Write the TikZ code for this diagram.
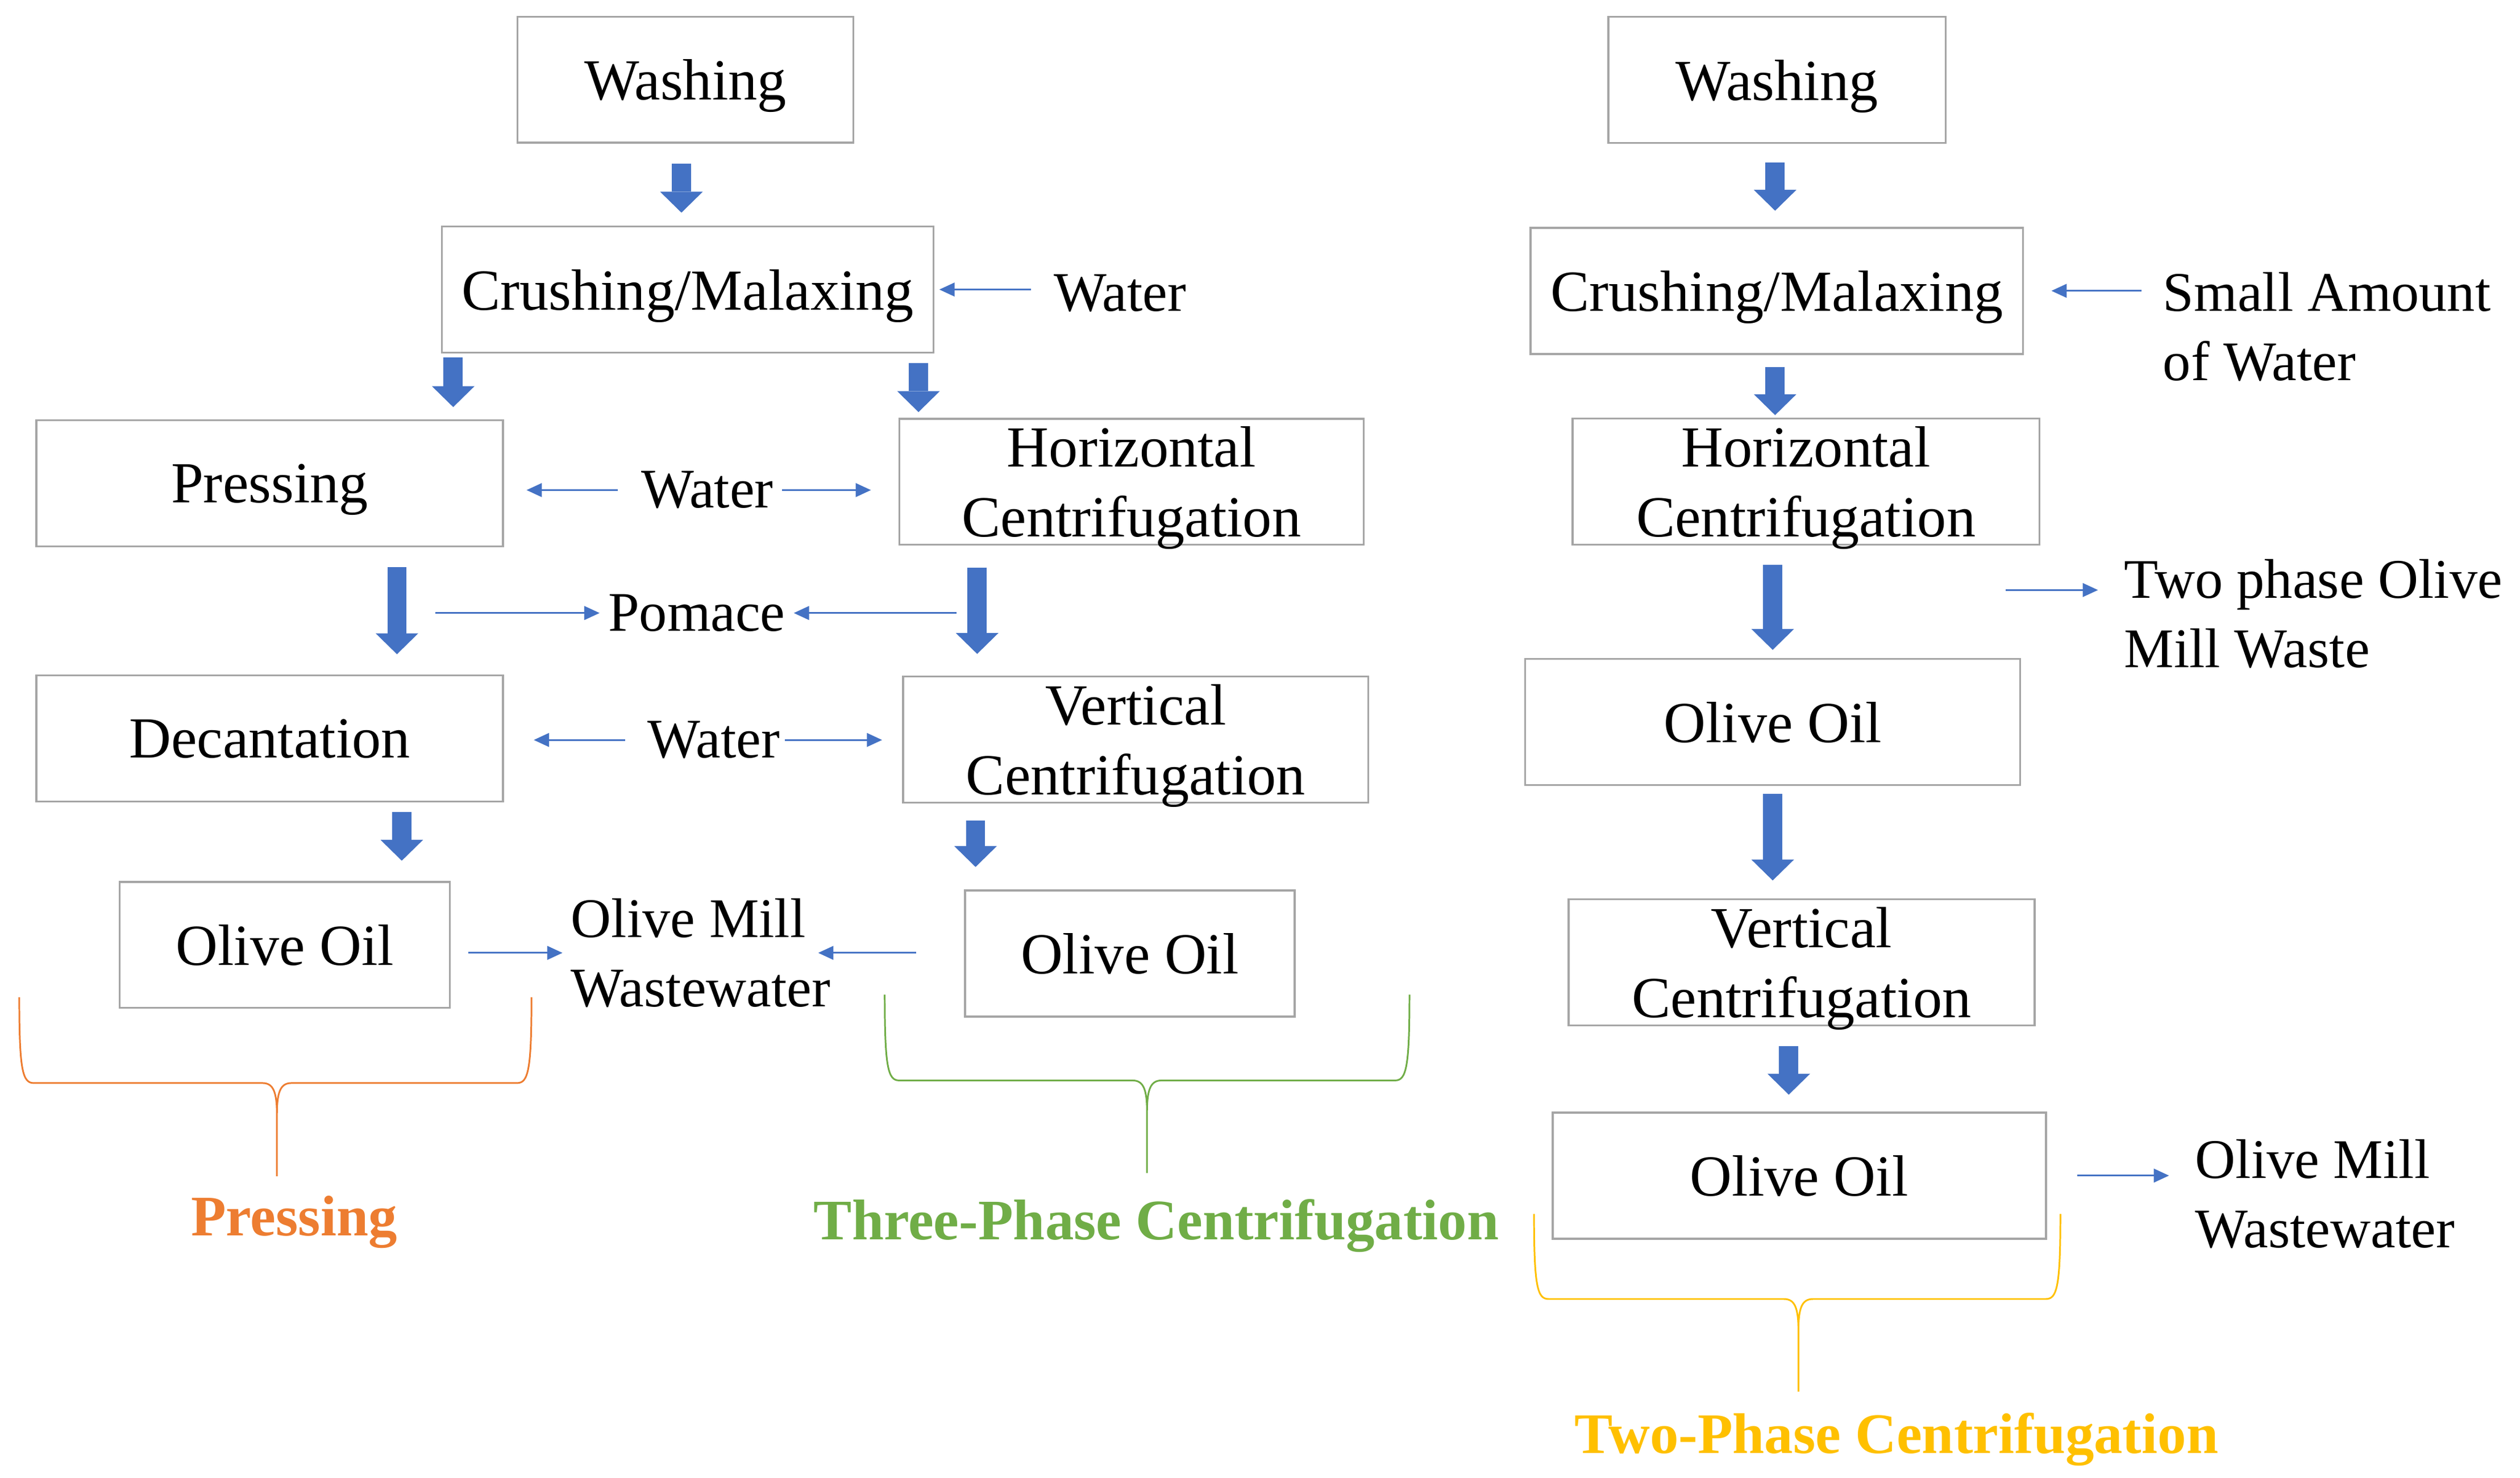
\documentclass[tikz,border=0pt]{standalone}
\usepackage{fontspec}
\setmainfont{Liberation Serif}
\usetikzlibrary{arrows.meta}
\definecolor{flowblue}{RGB}{68,114,196}
\definecolor{boxgray}{RGB}{165,165,165}
\definecolor{pressorange}{RGB}{237,125,49}
\definecolor{threegreen}{RGB}{112,173,71}
\definecolor{twogold}{RGB}{255,192,0}

\tikzset{
  procbox/.style={draw=boxgray, line width=0.7pt, minimum height=1.57cm, inner sep=0pt,
    align=center, text depth=0pt, font=\fontsize{20.6}{24.8}\selectfont},
  lbl/.style={inner xsep=0.1cm, inner ysep=0pt, align=left, font=\fontsize{19.8}{24.6}\selectfont},
  grouptitle/.style={font=\fontsize{20.3}{24}\selectfont\bfseries},
  bigarrow/.style={flowblue, line width=0.24cm, -{Triangle[length=0.26cm,width=0.53cm,line width=0pt]}},
  thinarrow/.style={flowblue, line width=0.6pt, -{Triangle[length=0.19cm,width=0.17cm]}},
}

% #1 colour, #2 left x, #3 right x, #4 middle x, #5 top y, #6 bar y, #7 tip y
\newcommand{\groupbrace}[7]{%
  \draw[#1, line width=0.6pt] (#2,#5) .. controls (#2,#6-8) and (#2+2,#6) .. (#2+9,#6)
    -- (#4-9,#6) .. controls (#4-2,#6) and (#4,#6+6) .. (#4,#6+20) -- (#4,#7)
    -- (#4,#6+20) .. controls (#4,#6+6) and (#4+2,#6) .. (#4+9,#6)
    -- (#3-9,#6) .. controls (#3-2,#6) and (#3,#6-8) .. (#3,#5);
}

\begin{document}
\begin{tikzpicture}[x=0.02cm, y=-0.02cm]
  \useasboundingbox (0,0) rectangle (1568,919.8);

  % pressing and three-phase line
  \node[procbox, minimum width=4.18cm] (washL) at (426.5,49.6) {Washing};
  \node[procbox, minimum width=6.12cm] (crushL) at (427.9,180.2) {Crushing/Malaxing};
  \node[procbox, minimum width=5.81cm] (pressL) at (167.8,300.7) {Pressing};
  \node[procbox, minimum width=5.78cm] (hcentL) at (704,299.8) {Horizontal\\Centrifugation};
  \node[procbox, minimum width=5.81cm] (decantL) at (167.8,459.5) {Decantation};
  \node[procbox, minimum width=5.79cm] (vcentL) at (706.7,460.3) {Vertical\\Centrifugation};
  \node[procbox, minimum width=4.11cm] (oilP) at (177.2,588) {Olive Oil};
  \node[procbox, minimum width=4.1cm] (oilT) at (703,593.4) {Olive Oil};

  \node[lbl] (waterA) at (697,182.5) {Water};
  \node[lbl] (waterB) at (440,305) {Water};
  \node[lbl] (pomace) at (433.5,381.5) {Pomace};
  \node[lbl] (waterC) at (444,460.5) {Water};
  \node[lbl, anchor=west] (omwL) at (350,593) {Olive Mill\\Wastewater};

  \draw[bigarrow, shorten <=0.25cm, shorten >=0.16cm] (washL.south -| 424,0) -- (crushL.north -| 424,0);
  \draw[bigarrow, shorten <=0.05cm, shorten >=0.15cm] (crushL.south -| 282,0) -- (pressL.north -| 282,0);
  \draw[bigarrow, shorten <=0.12cm, shorten >=0.07cm] (crushL.south -| 571.5,0) -- (hcentL.north -| 571.5,0);
  \draw[bigarrow, shorten <=0.25cm, shorten >=0.25cm] (pressL.south -| 247,0) -- (decantL.north -| 247,0);
  \draw[bigarrow, shorten <=0.27cm, shorten >=0.27cm] (hcentL.south -| 608,0) -- (vcentL.north -| 608,0);
  \draw[bigarrow, shorten <=0.12cm, shorten >=0.25cm] (decantL.south -| 250,0) -- (oilP.north -| 250,0);
  \draw[bigarrow, shorten <=0.21cm, shorten >=0.28cm] (vcentL.south -| 607,0) -- (oilT.north -| 607,0);

  \draw[thinarrow, shorten <=0.18cm, shorten >=0.06cm] (crushL.east -| waterA.west) -- (crushL.east);
  \draw[thinarrow, shorten <=0.18cm, shorten >=0.28cm] (waterB.west) -- (waterB.west -| pressL.east);
  \draw[thinarrow, shorten >=0.34cm] (waterB.east) -- (waterB.east -| hcentL.west);
  \coordinate (pomFromP) at (271,381.5);
  \coordinate (pomFromH) at (595,381.5);
  \draw[thinarrow] (pomFromP) -- (pomace.west);
  \draw[thinarrow] (pomFromH) -- (pomace.east);
  \draw[thinarrow, shorten <=0.17cm, shorten >=0.37cm] (waterC.west) -- (waterC.west -| decantL.east);
  \draw[thinarrow, shorten <=-0.04cm, shorten >=0.25cm] (waterC.east) -- (waterC.east -| vcentL.west);
  \draw[thinarrow, shorten <=0.22cm] (omwL.west -| oilP.east) -- (omwL.west);
  \draw[thinarrow, shorten <=0.6cm, shorten >=-0.26cm] (omwL.east -| oilT.west) -- (omwL.east);

  % two-phase line
  \node[procbox, minimum width=4.2cm] (washR) at (1105.7,49.7) {Washing};
  \node[procbox, minimum width=6.13cm] (crushR) at (1105.6,181) {Crushing/Malaxing};
  \node[procbox, minimum width=5.81cm] (hcentR) at (1123.7,299.7) {Horizontal\\Centrifugation};
  \node[procbox, minimum width=6.16cm] (oilR1) at (1103,449.3) {Olive Oil};
  \node[procbox, minimum width=5.8cm] (vcentR) at (1121,598.8) {Vertical\\Centrifugation};
  \node[procbox, minimum width=6.14cm] (oilR2) at (1119.5,731.6) {Olive Oil};

  \node[lbl, anchor=west] (smallW) at (1340.5,203.5) {Small Amount\\of Water};
  \node[lbl, anchor=west] (twoW) at (1316.4,382.1) {Two phase Olive\\Mill Waste};
  \node[lbl, anchor=west] (omwR) at (1360.6,743) {Olive Mill\\Wastewater};

  \draw[bigarrow, shorten <=0.23cm, shorten >=0.2cm] (washR.south -| 1104.5,0) -- (crushR.north -| 1104.5,0);
  \draw[bigarrow, shorten <=0.15cm, shorten >=0.03cm] (crushR.south -| 1104.5,0) -- (hcentR.north -| 1104.5,0);
  \draw[bigarrow, shorten <=0.24cm, shorten >=0.1cm] (hcentR.south -| 1103,0) -- (oilR1.north -| 1103,0);
  \draw[bigarrow, shorten <=0.1cm, shorten >=0.22cm] (oilR1.south -| 1103,0) -- (vcentR.north -| 1103,0);
  \draw[bigarrow, shorten <=0.25cm, shorten >=0.21cm] (vcentR.south -| 1113,0) -- (oilR2.north -| 1113,0);

  \draw[thinarrow, shorten <=0.16cm, shorten >=0.34cm] (crushR.east -| smallW.west) -- (crushR.east);
  \coordinate (twoFrom) at (1248,367.2);
  \draw[thinarrow, shorten >=0.22cm] (twoFrom) -- (twoFrom -| twoW.west);
  \draw[thinarrow, shorten <=0.38cm, shorten >=0.22cm] (oilR2.east) -- (oilR2.east -| omwR.west);

  % group braces
  \groupbrace{pressorange}{12}{330.7}{172.3}{620.7}{674}{732}
  \groupbrace{threegreen}{550.5}{877}{713.7}{619}{672.4}{730}
  \groupbrace{twogold}{954.5}{1282}{1119}{755.5}{808.4}{866}

  \node[grouptitle, text=pressorange] (titleP) at (183,760.7) {Pressing};
  \node[grouptitle, text=threegreen] (titleT) at (719.5,762.7) {Three-Phase Centrifugation};
  \node[grouptitle, text=twogold] (titleTw) at (1180,895.7) {Two-Phase Centrifugation};
\end{tikzpicture}
\end{document}
